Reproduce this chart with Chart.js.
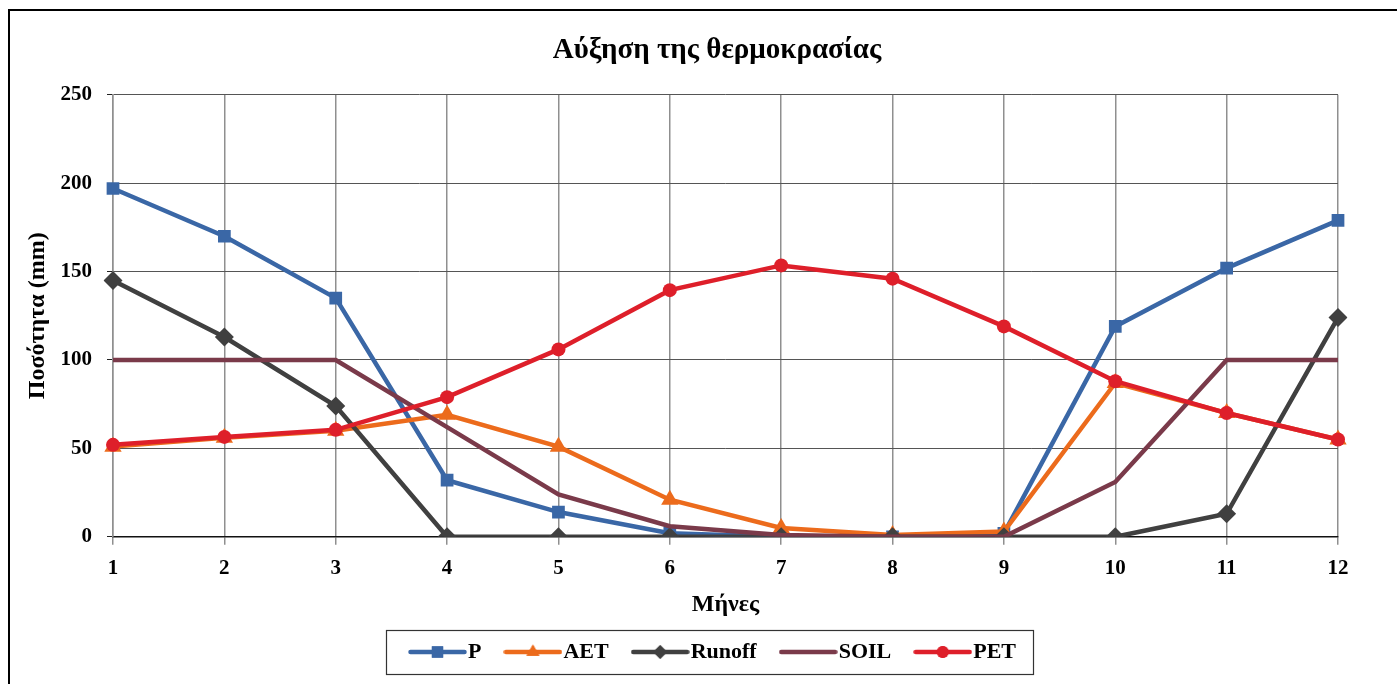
<!DOCTYPE html>
<html>
<head>
<meta charset="utf-8">
<script src="https://cdn.jsdelivr.net/npm/chart.js@4.4.1/dist/chart.umd.min.js"></script>
<style>
  html, body { margin: 0; padding: 0; background: #fff; }
  #wrap { width: 1397px; height: 684px; position: relative; }
</style>
</head>
<body>
<div id="wrap"><canvas id="myChart" width="1397" height="684"></canvas></div>
<script>
const months = ['1', '2', '3', '4', '5', '6', '7', '8', '9', '10', '11', '12'];
const pValues = [197, 170, 135, 32, 14, 2, 0, 0, 2, 119, 152, 179];
const aetValues = [51, 56, 60, 69, 51, 21, 5, 1, 3, 87, 70, 55];
const runoffValues = [145, 113, 74, 0, 0, 0, 0, 0, 0, 0, 13, 124];
const soilValues = [100, 100, 100, 62, 24, 6, 1, 0, 0, 31, 100, 100];
const petValues = [52, 56.5, 60.5, 79, 106, 139.5, 153.5, 146, 119, 88, 70, 55];
const yTicks = [0, 50, 100, 150, 200, 250];

const serif = "'Liberation Serif', 'DejaVu Serif', serif";

// line + marker picture used as legend symbol
function legendIcon(color, shape, radius) {
    const c = document.createElement('canvas');
    c.width = 59;
    c.height = 20;
    const g = c.getContext('2d');
    g.strokeStyle = color;
    g.lineWidth = 4.5;
    g.lineCap = 'round';
    g.beginPath();
    g.moveTo(2.5, 10);
    g.lineTo(56.5, 10);
    g.stroke();
    if (shape) {
        g.fillStyle = color;
        Chart.helpers.drawPoint(g, {pointStyle: shape, radius: radius, borderWidth: 0}, 29.5, 10);
        g.fill();
    }
    return c;
}

const frame = {
    id: 'frame',
    afterDraw(chart) {
        const g = chart.ctx;
        g.save();
        g.strokeStyle = '#000';
        g.lineWidth = 2;
        g.beginPath();
        g.moveTo(9, 684);
        g.lineTo(9, 10);
        g.lineTo(1397, 10);
        g.stroke();
        const boxes = chart.legend.legendHitBoxes;
        if (boxes && boxes.length) {
            const first = boxes[0], last = boxes[boxes.length - 1];
            const cy = first.top + first.height / 2;
            const x0 = Math.round(first.left - 32);
            const x1 = Math.round(last.left + last.width + 17);
            g.lineWidth = 1.2;
            g.strokeStyle = '#333';
            g.strokeRect(x0 + 0.5, Math.round(cy - 22) + 0.5, x1 - x0, 44);
        }
        g.restore();
    }
};

const styles = [
    {label: 'P', data: pValues, color: '#3A67A6', shape: 'rect', radius: 9, legendRadius: 8, order: 5},
    {label: 'AET', data: aetValues, color: '#EC6B1C', shape: 'triangle', radius: 10, legendRadius: 7.5, order: 4},
    {label: 'Runoff', data: runoffValues, color: '#404040', shape: 'rectRot', radius: 9.5, legendRadius: 7, order: 3},
    {label: 'SOIL', data: soilValues, color: '#7A3A4A', shape: false, radius: 0, legendRadius: 0, order: 2},
    {label: 'PET', data: petValues, color: '#DE1F2A', shape: 'circle', radius: 7, legendRadius: 6, order: 1}
];

const ctx = document.getElementById('myChart');
new Chart(ctx, {
    type: 'line',
    data: {
        labels: months,
        datasets: styles.map(s => ({
            label: s.label,
            data: s.data,
            borderColor: s.color,
            backgroundColor: s.color,
            borderWidth: 4.5,
            pointStyle: s.shape || 'circle',
            pointRadius: s.radius,
            pointBorderWidth: 0,
            pointBackgroundColor: s.color,
            order: s.order,
            tension: 0
        }))
    },
    options: {
        responsive: false,
        animation: false,
        layout: {
            padding: {left: 21, right: -16, top: 0, bottom: 11}
        },
        scales: {
            x: {
                offset: false,
                grid: {offset: false, color: '#8f8f8f', lineWidth: 1.5, tickLength: 8, tickColor: '#8f8f8f'},
                border: {color: '#111', width: 1.5},
                ticks: {color: '#000', padding: 11, font: {family: serif, size: 21, weight: 'bold'}},
                title: {
                    display: true,
                    text: 'Μήνες',
                    color: '#000',
                    padding: {top: 9, bottom: 0},
                    font: {family: serif, size: 24, weight: 'bold', lineHeight: 8 / 24}
                }
            },
            y: {
                min: 0,
                max: 250,
                afterBuildTicks(scale) {
                    scale.ticks = yTicks.map(v => ({value: v}));
                },
                afterFit(scale) {
                    scale.width = 92;
                },
                grid: {color: '#555', lineWidth: 1, tickLength: 6, tickColor: '#222'},
                border: {color: '#8f8f8f', width: 1.5},
                ticks: {color: '#000', padding: 15, font: {family: serif, size: 21, weight: 'bold'}},
                title: {
                    display: true,
                    text: 'Ποσότητα (mm)',
                    color: '#000',
                    padding: {top: 2, bottom: 0},
                    font: {family: serif, size: 24, weight: 'bold'}
                }
            },
            yR: {
                position: 'right',
                display: true,
                grid: {display: false},
                border: {display: false},
                ticks: {display: false},
                afterFit(scale) {
                    scale.width = 75;
                }
            }
        },
        plugins: {
            title: {
                display: true,
                text: 'Αύξηση της θερμοκρασίας',
                color: '#000',
                padding: {top: 33, bottom: 27},
                font: {family: serif, size: 29, weight: 'bold'}
            },
            legend: {
                position: 'bottom',
                labels: {
                    usePointStyle: true,
                    pointStyleWidth: 39,
                    padding: 32,
                    color: '#000',
                    font: {family: serif, size: 22, weight: 'bold'},
                    generateLabels(chart) {
                        return styles.map((s, i) => ({
                            text: s.label,
                            datasetIndex: i,
                            pointStyle: legendIcon(s.color, s.shape, s.legendRadius),
                            fillStyle: s.color,
                            strokeStyle: s.color,
                            lineWidth: 0,
                            hidden: false
                        }));
                    }
                }
            },
            tooltip: {enabled: false}
        }
    },
    plugins: [frame]
});
</script>
</body>
</html>
